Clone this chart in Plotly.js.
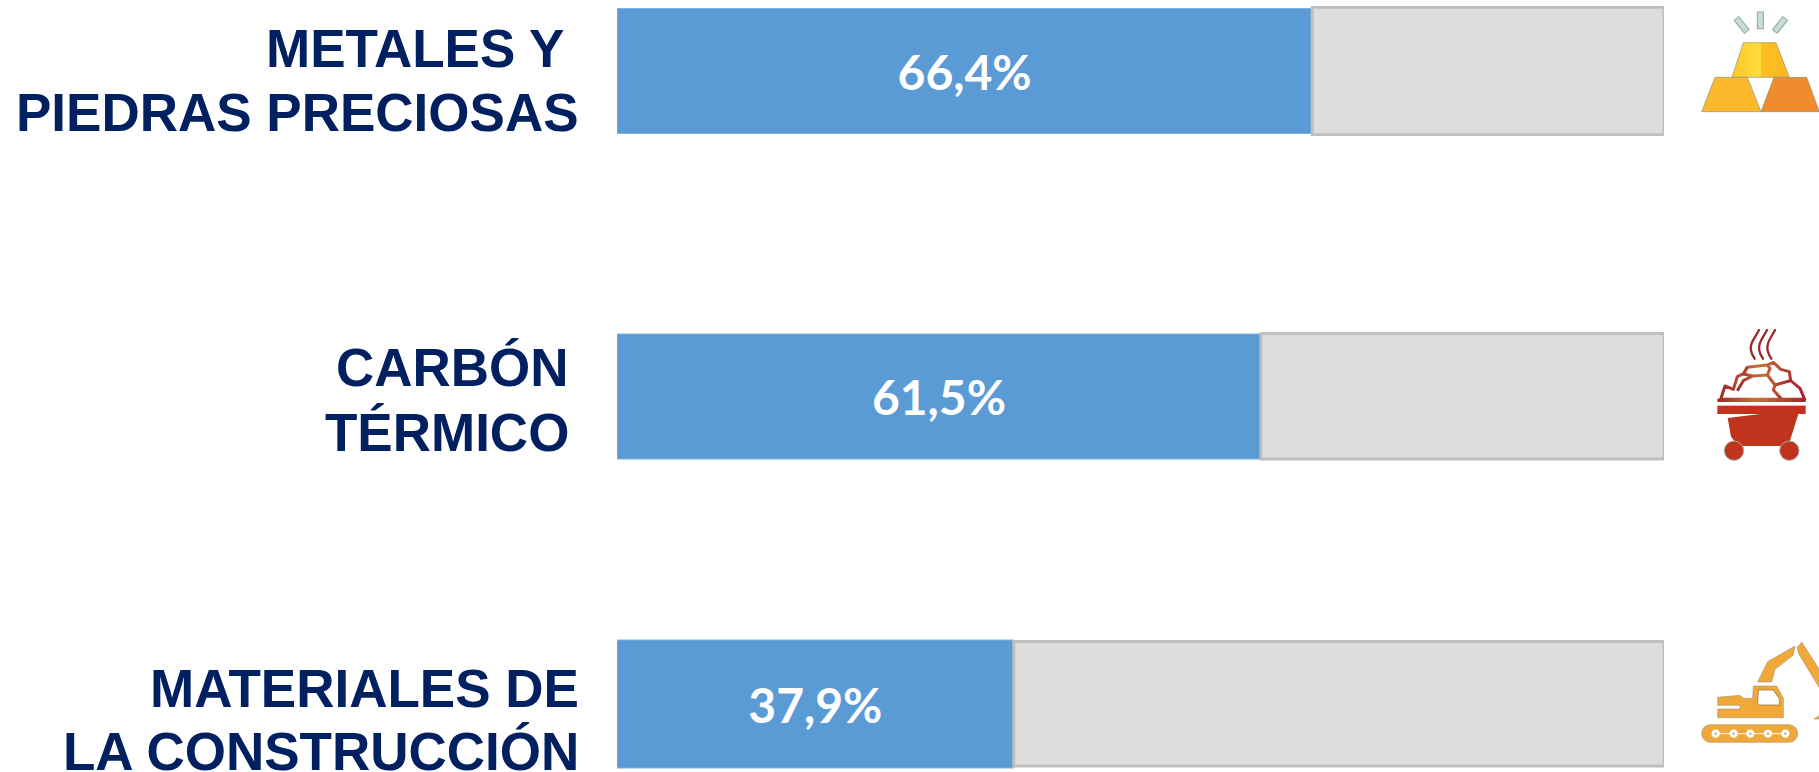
<!DOCTYPE html>
<html>
<head>
<meta charset="utf-8">
<script src="https://cdn.plot.ly/plotly-3.0.1.min.js"></script>
<style>html,body{margin:0;padding:0;background:#fff;overflow:hidden}#chart{width:1819px;height:772px}</style>
</head>
<body>
<div id="chart"></div>
<script>
// ---- data ----
var categories = ["METALES Y\u00A0<br>PIEDRAS PRECIOSAS", "CARBÓN<br>TÉRMICO", "MATERIALES DE<br>LA CONSTRUCCIÓN"];
var shares = [66.4, 61.5, 37.9];
var remainders = [33.6, 38.5, 62.1];

// ---- layout helpers (pixels of the 1819x772 page) ----
var W = 1819, H = 772, L = 617, R = 1664;
var rows = [
  {top: 6, bottom: 136, blue: [8.5, 133.5], grey: [7.3, 134.7], labelRight: 580, lines: [48.5, 112.5]},
  {top: 332, bottom: 461, blue: [334, 459], grey: [333.4, 459], labelRight: 570, lines: [368, 432]},
  {top: 639, bottom: 769, blue: [640, 768], grey: [641.5, 766], labelRight: 580, lines: [688, 751.5]}
];
function px(x){return (x - L) / (R - L);}
function py(y){return 1 - y / H;}

var goldSvg = '<svg xmlns="http://www.w3.org/2000/svg" viewBox="0 0 477 420">' +
 '<defs><linearGradient id="a" x1="0" x2="1" y1="0" y2="0"><stop offset="0" stop-color="#fdc928"/><stop offset="0.5" stop-color="#ffdc3c"/><stop offset="0.51" stop-color="#fcbf22"/><stop offset="1" stop-color="#fbb81f"/></linearGradient></defs>' +
 '<g stroke="#8f8f70" stroke-width="2" stroke-linejoin="round">' +
 '<polygon points="250,128 348,128 388,232 216,232" fill="url(#a)"/>' +
 '<polygon points="165,232 262,232 303,335 125,335" fill="#fdb92c"/>' +
 '<polygon points="342,232 440,232 478,335 303,335" fill="#f08c2d"/></g>' +
 '<g fill="#c6ddd0" stroke="#8fa89a" stroke-width="3">' +
 '<rect x="292" y="36" width="18" height="50" />' +
 '<rect x="-9" y="-25" width="18" height="50" transform="translate(245,75) rotate(-38)"/>' +
 '<rect x="-9" y="-25" width="18" height="50" transform="translate(360,75) rotate(38)"/></g></svg>';

var cartSvg = '<svg xmlns="http://www.w3.org/2000/svg" viewBox="0 0 477 480">' +
 '<defs><linearGradient id="r" x1="0" x2="1" y1="0" y2="0"><stop offset="0" stop-color="#a02a2a"/><stop offset="0.45" stop-color="#c9703a"/><stop offset="1" stop-color="#a81f2a"/></linearGradient></defs>' +
 '<g fill="none" stroke="#9c2b30" stroke-width="7" stroke-linecap="round">' +
 '<path d="M297,60 C284,85 268,100 273,122 C275,132 280,140 284,146"/>' +
 '<path d="M321,60 C308,85 293,100 298,122 C300,132 305,140 309,146"/>' +
 '<path d="M345,60 C332,85 318,100 323,122 C325,132 330,140 334,146"/></g>' +
 '<g fill="#fff" stroke="url(#r)" stroke-width="9" stroke-linejoin="round">' +
 '<path d="M182,268 L195,228 L220,238 L232,200 L252,190 L262,172 L322,165 L340,157 L362,178 L388,185 L392,212 L420,235 L434,268 Z"/>' +
 '<path d="M262,172 L250,192 L278,198 L322,195 L330,175 L322,165 M232,242 L250,212 L278,198 M322,195 L345,225 L340,240 L365,268 M345,225 L392,212" fill="none"/></g>' +
 '<rect x="172" y="266" width="265" height="10" fill="url(#r)"/>' +
 '<rect x="172" y="287" width="265" height="25" fill="#c0341d"/>' +
 '<polygon points="203,324 300,312 415,312 385,408 235,408 213,380" fill="#c0341d"/>' +
 '<g fill="#c0341d" stroke="#a8aaa0" stroke-width="3"><circle cx="222" cy="422" r="29"/><circle cx="388" cy="422" r="29"/></g></svg>';

var excSvg = '<svg xmlns="http://www.w3.org/2000/svg" viewBox="0 0 477 456">' +
 '<g fill="#f0a838" stroke="#a89a80" stroke-width="2" stroke-linejoin="round">' +
 '<polygon points="293,186 323,125 405,78 400,105 345,148 335,186"/>' +
 '<polygon points="412,82 425,66 479,150 479,205 415,100"/>' +
 '<polygon points="462,297 479,286 479,297"/>' +
 '<path d="M173,232 L240,226 L250,235 L278,235 L280,198 L350,198 L370,235 L370,293 L173,293 L173,267 L240,267 L240,256 L173,256 Z"/>' +
 '<rect x="125" y="314" width="288" height="53" rx="26"/></g>' +
 '<path d="M295,210 L340,210 L358,236 L358,255 L293,255 Z" fill="#fff" stroke="#8a6a30" stroke-width="2"/>' +
 '<path d="M167,341 L376,341" stroke="#fff" stroke-width="3"/>' +
 '<g fill="#b9a888" stroke="#fff" stroke-width="9"><circle cx="167" cy="341" r="8"/><circle cx="221" cy="341" r="8"/><circle cx="271" cy="341" r="8"/><circle cx="324" cy="341" r="8"/><circle cx="376" cy="341" r="8"/></g></svg>';

function uri(s){return 'data:image/svg+xml;charset=utf-8,' + encodeURIComponent(s);}
function icon(s, x, y, w, h){
  return {source: uri(s), xref: 'paper', yref: 'paper', x: px(x), y: py(y), sizex: w / (R - L), sizey: h / H,
          xanchor: 'left', yanchor: 'top', sizing: 'stretch', layer: 'above'};
}

var traces = [];
var layout = {
  width: W, height: H,
  margin: {l: L, r: W - R, t: 0, b: 0, pad: 0},
  paper_bgcolor: '#fff', plot_bgcolor: 'rgba(0,0,0,0)',
  showlegend: false, barmode: 'overlay', separators: ',.',
  xaxis: {range: [0, 100], visible: false, fixedrange: true, domain: [0, 1], anchor: 'y'},
  annotations: [],
  images: [icon(goldSvg, 1660, 0, 159, 140), icon(cartSvg, 1660, 310, 159, 160), icon(excSvg, 1660, 620, 159, 152)]
};

categories.forEach(function(cat, i){
  var r = rows[i], span = r.bottom - r.top, yname = i === 0 ? 'y' : 'y' + (i + 1);
  var axis = i === 0 ? 'yaxis' : 'yaxis' + (i + 1);
  layout[axis] = {type: 'category', range: [-0.5, 0.5], visible: false, fixedrange: true,
    domain: [py(r.bottom), py(r.top)], anchor: 'x'};
  function offs(b){return {width: (b[1] - b[0]) / span, offset: (r.bottom - b[1]) / span - 0.5};}
  var ob = offs(r.blue), og = offs(r.grey);
  traces.push({type: 'bar', orientation: 'h', x: [shares[i]], y: [cat], yaxis: yname, xaxis: 'x',
    width: ob.width, offset: ob.offset, cliponaxis: false, hoverinfo: 'skip',
    marker: {color: '#5b9bd5', line: {color: '#7fb2e2', width: 1}},
    texttemplate: '%{x:.1f}%', textposition: 'inside', insidetextanchor: 'middle', textangle: 0,
    constraintext: 'none',
    textfont: {family: 'Lato, sans-serif', size: 48, color: '#fff', weight: 700}});
  traces.push({type: 'bar', orientation: 'h', x: [remainders[i]], base: [shares[i]], y: [cat], yaxis: yname, xaxis: 'x',
    width: og.width, offset: og.offset, cliponaxis: false, hoverinfo: 'skip',
    marker: {color: '#dddddd', line: {color: '#bfbfbf', width: 3}}});
  cat.split('<br>').forEach(function(line, k){
    layout.annotations.push({text: line, xref: 'paper', yref: 'paper', x: px(r.labelRight), y: py(r.lines[k]),
      xanchor: 'right', yanchor: 'middle', align: 'right', showarrow: false, borderpad: 0,
      font: {family: 'Liberation Sans, Arial, sans-serif', size: 53, color: '#002060', weight: 700}});
  });
});

Plotly.newPlot('chart', traces, layout, {displayModeBar: false, staticPlot: true});
</script>
</body>
</html>
